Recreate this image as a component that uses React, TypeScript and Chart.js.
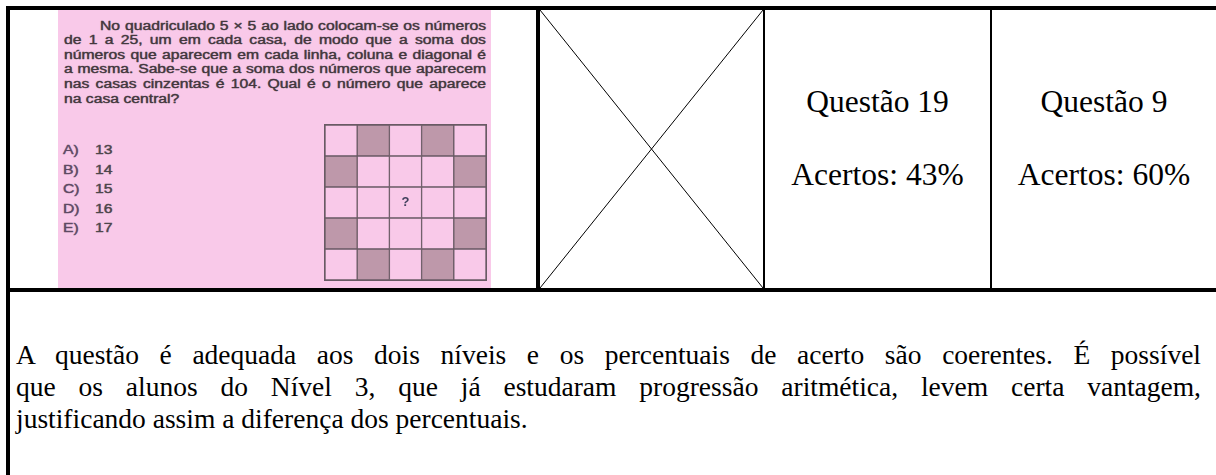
import React, { useEffect, useRef } from "react";
import { Chart, registerables } from "chart.js";

Chart.register(...registerables);

// ---------- data ----------
const problemLines = [
  "No quadriculado 5 × 5 ao lado colocam-se os números",
  "de 1 a 25, um em cada casa, de modo que a soma dos",
  "números que aparecem em cada linha, coluna e diagonal é",
  "a mesma. Sabe-se que a soma dos números que aparecem",
  "nas casas cinzentas é 104. Qual é o número que aparece",
  "na casa central?",
];
const optionLetters = ["A)", "B)", "C)", "D)", "E)"];
const optionValues = [13, 14, 15, 16, 17];
// 5x5 grid, rows listed top to bottom, 1 = grey cell
const gridShade = [
  [0, 1, 0, 1, 0],
  [1, 0, 0, 0, 1],
  [0, 0, 0, 0, 0],
  [1, 0, 0, 0, 1],
  [0, 1, 0, 1, 0],
];
const gridColumns = ["1", "2", "3", "4", "5"];
const centerMark = { col: 2, row: 2, text: "?" };
// the crossed-out (empty) cell: two diagonals on a unit square
const crossDiagonalA = [
  { x: 0, y: 1 },
  { x: 1, y: 0 },
];
const crossDiagonalB = [
  { x: 0, y: 0 },
  { x: 1, y: 1 },
];
const questionNumbers = [19, 9];
const accuracyPercent = [43, 60];
const commentLines = [
  "A questão é adequada aos dois níveis e os percentuais de acerto são coerentes. É possível",
  "que os alunos do Nível 3, que já estudaram progressão aritmética, levem certa vantagem,",
  "justificando assim a diferença dos percentuais.",
];

// ---------- styles ----------
const SERIF = '"Liberation Serif", "DejaVu Serif", serif';
const SANS = '"Liberation Sans", Arial, Helvetica, sans-serif';
const PINK = "rgb(249, 201, 233)";
const SHADE = "rgb(190, 152, 170)";
const GRID_LINE = "rgb(105, 90, 100)";
const TEXT_GREY = "#43383e";

function GridChart() {
  const ref = useRef<HTMLCanvasElement | null>(null);
  useEffect(() => {
    if (!ref.current) return;
    const nRows = gridShade.length;
    const datasets = gridShade.map((_, r) => {
      const rowFromTop = nRows - 1 - r;
      return {
        label: "row" + r,
        data: gridColumns.map(() => 1),
        backgroundColor: gridShade[rowFromTop].map((v) => (v ? SHADE : PINK)),
        borderColor: GRID_LINE,
        borderWidth: 1,
        borderSkipped: false as const,
        stack: "s",
        barPercentage: 1,
        categoryPercentage: 1,
      };
    });
    const markPlugin = {
      id: "centerMark",
      afterDatasetsDraw(chart: any) {
        const { ctx, scales } = chart;
        const x = scales.x.getPixelForValue(centerMark.col);
        const y = scales.y.getPixelForValue(nRows - centerMark.row - 0.5);
        ctx.save();
        ctx.fillStyle = "#40405c";
        ctx.font = "bold 13px " + SANS;
        ctx.textAlign = "center";
        ctx.textBaseline = "middle";
        ctx.fillText(centerMark.text, x, y);
        ctx.restore();
      },
    };
    const chart = new Chart(ref.current, {
      type: "bar",
      data: { labels: gridColumns, datasets },
      options: {
        animation: false,
        responsive: true,
        maintainAspectRatio: false,
        events: [],
        layout: { padding: 0 },
        plugins: { legend: { display: false }, tooltip: { enabled: false } },
        scales: {
          x: { stacked: true, display: false },
          y: { stacked: true, display: false, min: 0, max: nRows },
        },
      },
      plugins: [markPlugin],
    });
    return () => chart.destroy();
  }, []);
  return (
    <div style={{ position: "absolute", left: 324, top: 124, width: 161, height: 155, border: `1px solid ${GRID_LINE}` }}>
      <canvas ref={ref} />
    </div>
  );
}

function CrossChart() {
  const ref = useRef<HTMLCanvasElement | null>(null);
  useEffect(() => {
    if (!ref.current) return;
    const chart = new Chart(ref.current, {
      type: "scatter",
      data: {
        datasets: [
          { data: crossDiagonalA, showLine: true, borderColor: "#000", borderWidth: 1, pointRadius: 0, clip: false as any },
          { data: crossDiagonalB, showLine: true, borderColor: "#000", borderWidth: 1, pointRadius: 0, clip: false as any },
        ],
      },
      options: {
        animation: false,
        responsive: true,
        maintainAspectRatio: false,
        events: [],
        layout: { padding: 0 },
        plugins: { legend: { display: false }, tooltip: { enabled: false } },
        scales: {
          x: { type: "linear", display: false, min: 0, max: 1 },
          y: { type: "linear", display: false, min: 0, max: 1 },
        },
      },
    });
    return () => chart.destroy();
  }, []);
  return (
    <div style={{ position: "absolute", left: 540, top: 10, width: 223, height: 278 }}>
      <canvas ref={ref} />
    </div>
  );
}

const black = "#000";
function Rule(props: { l: number; t: number; w: number; h: number }) {
  return <div style={{ position: "absolute", left: props.l, top: props.t, width: props.w, height: props.h, background: black }} />;
}

export default function App() {
  const sx = 1.31;
  const fullW = 486 - 64;
  const pinkText = {
    fontFamily: SANS,
    fontSize: 12,
    lineHeight: "14px",
    whiteSpace: "nowrap" as const,
    transform: `scaleX(${sx})`,
    transformOrigin: "0 0",
  };
  return (
    <div style={{ position: "fixed", left: 0, top: 0, width: 1216, height: 475, background: "#fff", overflow: "hidden" }}>
      {/* pink question image */}
      <div style={{ position: "absolute", left: 58, top: 10, width: 433, height: 278, background: PINK }} />
      {problemLines.map((line, i) => {
        const isFirst = i === 0;
        const isLast = i === problemLines.length - 1;
        const left = isFirst ? 100 : 64;
        const w = isFirst ? 486 - 100 : fullW;
        return (
          <div
            key={"p" + i}
            style={{
              ...pinkText,
              position: "absolute",
              left,
              top: 18.6 + i * 14.62,
              width: w / sx,
              textAlign: isLast ? "left" : "justify",
              textAlignLast: isLast ? "left" : "justify",
              color: TEXT_GREY,
              WebkitTextStroke: "0.3px rgba(67,56,62,0.8)",
              textShadow: "0 0 0.8px rgba(60,50,56,0.7)",
            }}
          >
            {line}
          </div>
        );
      })}
      {optionLetters.map((letter, i) => (
        <React.Fragment key={"o" + i}>
          <div
            style={{
              ...pinkText,
              position: "absolute",
              left: 63,
              top: 143.3 + i * 19.45,
              color: "#5e4a64",
              WebkitTextStroke: "0.3px rgba(94,74,100,0.8)",
              textShadow: "0 0 0.8px rgba(80,60,90,0.7)",
            }}
          >
            {letter}
          </div>
          <div
            style={{
              ...pinkText,
              position: "absolute",
              left: 95,
              top: 143.3 + i * 19.45,
              color: "#4e464c",
              WebkitTextStroke: "0.3px rgba(78,70,76,0.8)",
              textShadow: "0 0 0.8px rgba(70,60,66,0.7)",
            }}
          >
            {optionValues[i]}
          </div>
        </React.Fragment>
      ))}
      <GridChart />

      {/* crossed empty cell */}
      <CrossChart />

      {/* question / accuracy columns */}
      {questionNumbers.map((q, i) => {
        const left = i === 0 ? 765 : 992;
        const right = i === 0 ? 990 : 1216;
        const cell = { position: "absolute" as const, left, width: right - left, textAlign: "center" as const, fontFamily: SERIF, fontSize: 31.5, lineHeight: "36px", color: "#000", whiteSpace: "nowrap" as const };
        return (
          <React.Fragment key={"q" + i}>
            <div style={{ ...cell, top: 84 }}>{"Questão " + q}</div>
            <div style={{ ...cell, top: 157.4 }}>{"Acertos: " + accuracyPercent[i] + "%"}</div>
          </React.Fragment>
        );
      })}

      {/* comment row */}
      {commentLines.map((line, i) => {
        const isLast = i === commentLines.length - 1;
        return (
          <div
            key={"c" + i}
            style={{
              position: "absolute",
              left: 16,
              top: 338.7 + i * 32,
              width: 1201 - 16,
              whiteSpace: "nowrap",
              textAlign: isLast ? "left" : "justify",
              textAlignLast: isLast ? "left" : "justify",
              fontFamily: SERIF,
              fontSize: 27.5,
              lineHeight: "32px",
              color: "#000",
            }}
          >
            {line}
          </div>
        );
      })}

      {/* table rules */}
      <Rule l={6} t={6} w={1210} h={4} />
      <Rule l={6} t={6} w={4} h={469} />
      <Rule l={536} t={6} w={4} h={286} />
      <Rule l={763} t={10} w={2} h={278} />
      <Rule l={990} t={10} w={2} h={278} />
      <Rule l={6} t={288} w={1210} h={4} />
    </div>
  );
}
